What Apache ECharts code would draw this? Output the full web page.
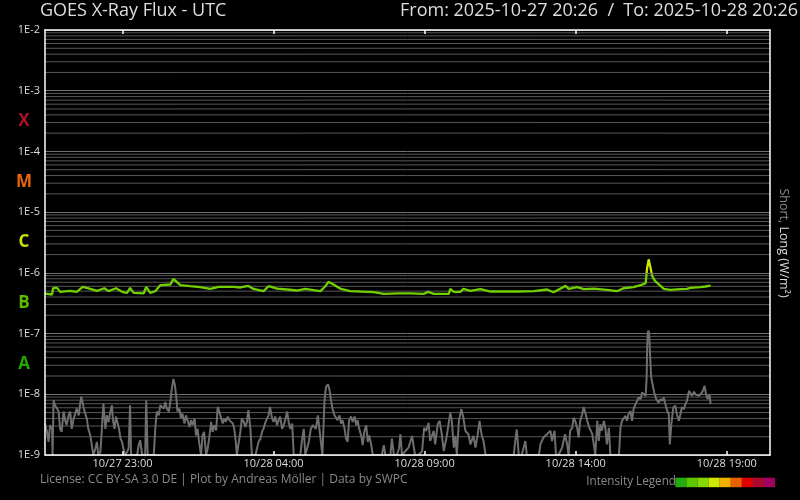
<!DOCTYPE html>
<html><head><meta charset="utf-8">
<script src="https://cdn.jsdelivr.net/npm/echarts@6/dist/echarts.min.js"></script>
<style>html,body{margin:0;background:#000}#c{width:800px;height:500px}</style>
</head><body><div id="c"></div>
<script>
// ---- data ----
const startTime = '2025-10-27T20:26:00Z';
const endTime = '2025-10-28T20:26:00Z';
const tickTimes = ['2025-10-27T23:00:00Z','2025-10-28T04:00:00Z','2025-10-28T09:00:00Z','2025-10-28T14:00:00Z','2025-10-28T19:00:00Z'];

// minutes after start, long channel (0.1-0.8 nm) flux W/m2
const longMinutes = [0,14,16,20,24,30,50,63,75,90,103,118,126,141,155,163,169,176,196,201,209,219,229,249,255,269,288,308,328,345,375,388,404,414,434,444,461,481,500,517,547,557,563,573,586,606,653,673,702,726,752,761,772,802,805,812,825,831,845,865,885,938,971,997,1010,1034,1040,1057,1070,1090,1116,1136,1149,1169,1183,1193,1196,1199,1202,1206,1212,1222,1229,1242,1262,1275,1282,1302,1312,1322];
const longFlux = [4.56e-7,4.40e-7,5.58e-7,5.65e-7,5.65e-7,4.86e-7,5.04e-7,4.86e-7,5.87e-7,5.44e-7,5.04e-7,5.58e-7,4.99e-7,5.58e-7,4.80e-7,4.67e-7,5.65e-7,4.67e-7,4.61e-7,5.87e-7,4.67e-7,4.99e-7,6.26e-7,6.43e-7,7.96e-7,6.26e-7,6.03e-7,5.81e-7,5.44e-7,5.87e-7,5.87e-7,5.74e-7,6.10e-7,5.44e-7,4.99e-7,6.03e-7,5.52e-7,5.32e-7,5.12e-7,5.44e-7,4.99e-7,6.03e-7,7.10e-7,6.43e-7,5.52e-7,4.99e-7,4.80e-7,4.50e-7,4.61e-7,4.61e-7,4.50e-7,4.86e-7,4.50e-7,4.50e-7,5.44e-7,4.86e-7,4.86e-7,5.44e-7,5.04e-7,5.38e-7,4.93e-7,4.93e-7,4.99e-7,5.32e-7,4.80e-7,6.10e-7,5.44e-7,5.81e-7,5.38e-7,5.52e-7,5.24e-7,4.99e-7,5.58e-7,5.81e-7,6.26e-7,6.76e-7,1.21e-6,1.67e-6,1.29e-6,8.83e-7,7.29e-7,6.19e-7,5.44e-7,5.24e-7,5.38e-7,5.44e-7,5.65e-7,5.81e-7,5.96e-7,6.19e-7];

// minutes after start, short channel (0.05-0.4 nm) flux W/m2
const shortMinutes = [0,4,7,10,14,15,17,20,24,27,30,33,37,40,43,47,50,53,57,60,63,67,70,72,75,77,80,83,86,90,93,96,100,103,106,110,113,116,120,123,126,130,133,135,138,141,144,147,150,153,156,159,163,166,169,171,183,186,189,193,199,201,204,216,219,222,226,229,232,236,239,242,246,249,252,255,258,261,263,267,270,273,277,280,283,287,290,293,297,300,303,306,310,313,316,320,323,326,330,333,336,340,343,346,350,353,356,359,363,366,369,373,376,379,381,385,388,391,395,398,401,404,408,411,418,421,424,428,431,434,438,441,444,447,451,454,457,461,464,467,471,474,477,481,484,487,491,494,507,510,514,517,524,528,532,535,538,542,545,548,551,555,558,562,565,568,571,575,578,581,585,588,591,595,598,601,604,608,611,615,618,621,624,628,631,634,638,641,644,648,651,669,673,676,686,689,693,699,703,
706,709,712,722,729,735,742,749,753,757,762,765,772,775,780,784,788,792,798,805,808,812,815,818,822,827,831,835,841,845,851,855,859,863,867,871,875,931,934,937,941,947,954,957,981,984,990,997,1004,1007,1012,1015,1020,1027,1033,1037,1040,1043,1047,1050,1053,1057,1060,1063,1067,1070,1073,1077,1080,1083,1087,1090,1093,1097,1100,1103,1106,1110,1113,1116,1120,1123,1140,1143,1146,1149,1153,1156,1159,1163,1166,1169,1173,1176,1179,1183,1186,1189,1193,1195,1196,1197,1198.5,1200,1202,1204,1208,1210,1214,1219,1222,1226,1229,1232,1236,1239,1241,1244,1248,1252,1255,1259,1262,1265,1269,1272,1275,1279,1282,1285,1289,1292,1295,1299,1302,1305,1308,1310,1313,1316,1320,1322];
const shortFlux = [3.3e-9,2.4e-9,1.64e-9,3.1e-9,2.7e-9,1e-9,8.0e-9,6.6e-9,5.8e-9,5.2e-9,2.7e-9,2.4e-9,5.2e-9,3.75e-9,3.1e-9,4.5e-9,5.2e-9,2.7e-9,4.0e-9,4.8e-9,5.8e-9,4.5e-9,7.1e-9,9.1e-9,7.1e-9,5.8e-9,4.8e-9,4.0e-9,2.7e-9,2.1e-9,1.45e-9,1e-9,1.27e-9,1.64e-9,1e-9,1.12e-9,2.7e-9,7.1e-9,2.7e-9,4.5e-9,3.5e-9,5.2e-9,6.6e-9,3.75e-9,2.7e-9,4.3e-9,4.0e-9,2.7e-9,1.86e-9,1.64e-9,1.27e-9,1e-9,1.12e-9,1.27e-9,6.6e-9,1e-9,1e-9,1.45e-9,1.75e-9,1e-9,1e-9,8.0e-9,1e-9,1e-9,2.7e-9,5.2e-9,4.5e-9,6.6e-9,7.1e-9,5.8e-9,7.5e-9,5.8e-9,5.2e-9,7.5e-9,1.25e-8,1.79e-8,1.42e-8,8.6e-9,5.2e-9,5.8e-9,4.0e-9,4.8e-9,3.3e-9,4.5e-9,3.75e-9,2.9e-9,3.75e-9,3.1e-9,4.0e-9,2.1e-9,2.7e-9,1.64e-9,1e-9,2.1e-9,2.4e-9,1e-9,1.27e-9,1.86e-9,3.5e-9,2.4e-9,3.1e-9,2.55e-9,6.2e-9,5.2e-9,4.0e-9,3.3e-9,4.0e-9,3.5e-9,4.3e-9,3.75e-9,4.0e-9,3.3e-9,2.7e-9,1.64e-9,1e-9,1.64e-9,2.4e-9,4.0e-9,3.5e-9,2.9e-9,3.5e-9,5.5e-9,2.7e-9,1e-9,1e-9,1.27e-9,1.64e-9,1.86e-9,2.4e-9,2.7e-9,3.5e-9,3.3e-9,4.5e-9,6.2e-9,4.0e-9,3.5e-9,4.3e-9,3.1e-9,3.75e-9,4.3e-9,2.7e-9,3.1e-9,3.75e-9,5.2e-9,3.5e-9,2.7e-9,3.3e-9,1e-9,1e-9,1.64e-9,2.7e-9,1e-9,1.64e-9,2.7e-9,3.1e-9,3.3e-9,2.7e-9,4.5e-9,2.7e-9,1.64e-9,1e-9,7.5e-9,1.32e-8,1.46e-8,1.2e-8,8.0e-9,5.8e-9,4.5e-9,4.8e-9,3.75e-9,4.5e-9,3.3e-9,3.75e-9,2.7e-9,1.86e-9,1.64e-9,3.75e-9,4.3e-9,3.5e-9,4.3e-9,3.1e-9,3.75e-9,2.7e-9,2.1e-9,1.45e-9,2.4e-9,3.1e-9,1.64e-9,2.1e-9,1.45e-9,1e-9,1e-9,1.45e-9,1e-9,1e-9,1.86e-9,1e-9,1e-9,1.27e-9,
2.2e-9,1e-9,1e-9,1.32e-9,2.06e-9,1e-9,1e-9,1.16e-9,2.8e-9,2.5e-9,3.4e-9,1.7e-9,2.5e-9,1.5e-9,3.2e-9,3.65e-9,2.2e-9,1.16e-9,2.06e-9,5.0e-9,3.65e-9,1.32e-9,2.06e-9,1e-9,3.65e-9,5.7e-9,4.1e-9,2.5e-9,2.2e-9,1.5e-9,2.06e-9,1.32e-9,2.06e-9,3.65e-9,2.2e-9,1.7e-9,1e-9,1e-9,1.7e-9,2.65e-9,1e-9,1e-9,1.7e-9,1e-9,1e-9,1.5e-9,1.94e-9,2.2e-9,2.5e-9,1.7e-9,2.5e-9,1e-9,1e-9,1.32e-9,2.2e-9,1.5e-9,1e-9,2.5e-9,2.8e-9,4.1e-9,3.65e-9,2.8e-9,1.94e-9,3.65e-9,4.7e-9,6.2e-9,5.0e-9,3.65e-9,3.0e-9,3.2e-9,2.2e-9,1.5e-9,1e-9,3.65e-9,1.7e-9,3.2e-9,2.5e-9,3.65e-9,2.8e-9,1.5e-9,2.8e-9,1e-9,1e-9,2.8e-9,3.65e-9,3.9e-9,4.4e-9,3.65e-9,4.7e-9,5.3e-9,3.65e-9,5.7e-9,6.9e-9,7.8e-9,8.9e-9,8.3e-9,1.07e-8,1.14e-8,9.4e-9,1.9e-8,5.9e-8,9.9e-8,1.12e-7,9.9e-8,4.1e-8,1.9e-8,1.3e-8,1.07e-8,8.3e-9,7.3e-9,8.3e-9,7.8e-9,8.9e-9,6.9e-9,5.3e-9,4.7e-9,1.5e-9,3.2e-9,6.1e-9,6.5e-9,4.7e-9,3.65e-9,4.7e-9,6.1e-9,5.7e-9,6.9e-9,7.8e-9,1.14e-8,1.07e-8,9.4e-9,1.1e-8,1.0e-8,1.07e-8,9.4e-9,8.9e-9,1.07e-8,1.22e-8,1.38e-8,1.0e-8,8.3e-9,1.0e-8,6.9e-9];

const flareClasses = ['X','M','C','B','A'];
const flareFloor = [1e-4,1e-5,1e-6,1e-7,1e-8];

// ---- styles ----
const FONT = 'Open Sans';
const flareColors = ['#b0102c','#e8640e','#c8e000','#5cbc00','#22a800'];
const legendColors = ['#22aa11','#5cc800','#88d800','#cce800','#f0b000','#e86000','#e00000','#aa0a30','#a00060'];

const t0 = Date.parse(startTime), t1 = Date.parse(endTime);
const ticks = tickTimes.map(s => Date.parse(s));
const pairs = (mins, vals) => mins.map((m, i) => [t0 + m * 60000, vals[i]]);
// minor log grid lines (2..9 x 10^n), drawn as broken horizontal segments across the plot
const gridData = [];
for (let e = -9; e < -2; e++) for (let m = 2; m <= 9; m++) {
  const v = m * Math.pow(10, e);
  gridData.push([t0, v], [t1, v], [t1, '-']);
}
const pad = n => String(n).padStart(2, '0');
const fmtTime = v => { const d = new Date(v); return pad(d.getUTCMonth() + 1) + '/' + pad(d.getUTCDate()) + ' ' + pad(d.getUTCHours()) + ':' + pad(d.getUTCMinutes()); };

const chart = echarts.init(document.getElementById('c'));
const xBase = {
  type: 'value', min: t0, max: t1,
  axisLine: { onZero: false, lineStyle: { color: '#ffffff', width: 1.5 } },
  axisTick: { inside: true, length: 4, customValues: ticks, lineStyle: { color: '#ffffff', width: 1.5 } },
  splitLine: { show: false }
};
const yBase = {
  type: 'log', logBase: 10, min: 1e-9, max: 1e-2, splitNumber: 7,
  axisLine: { show: true, onZero: false, lineStyle: { color: '#ffffff', width: 1.5 } },
  axisTick: { show: false },
  minorTick: { show: false }
};
chart.setOption({
  backgroundColor: '#000',
  animation: false,
  grid: { left: 45, right: 30, top: 30, bottom: 45 },
  xAxis: [
    Object.assign({}, xBase, { position: 'bottom', z: 10,
      axisLabel: { customValues: ticks, formatter: fmtTime, color: '#dddddd', fontSize: 11, fontFamily: FONT, margin: 3 } }),
    Object.assign({}, xBase, { position: 'top', z: 10, axisLabel: { show: false } })
  ],
  yAxis: [
    Object.assign({}, yBase, { position: 'left', z: 10,
      axisLabel: { formatter: v => '1E' + Math.round(Math.log10(v)), color: '#dddddd', fontSize: 11, fontFamily: FONT, margin: 5 },
      splitLine: { show: true, lineStyle: { color: '#707070', width: 1 } } }),
    Object.assign({}, yBase, { position: 'right', z: 10, axisLabel: { show: false }, splitLine: { show: false } })
  ],
  visualMap: {
    show: false, type: 'piecewise', seriesIndex: 2, dimension: 1,
    pieces: [
      { lt: 1e-6, color: '#72cf00' },
      { gte: 1e-6, lt: 1e-5, color: '#cde600' }
    ]
  },
  series: [
    { name: 'grid', type: 'line', data: gridData, z: 1, silent: true, showSymbol: false, connectNulls: false,
      lineStyle: { color: '#585858', width: 1 }, itemStyle: { color: '#585858' } },
    { name: 'Short', type: 'line', data: pairs(shortMinutes, shortFlux), showSymbol: false, z: 3,
      lineStyle: { color: '#6e6e6e', width: 2 }, itemStyle: { color: '#6e6e6e' }, clip: true },
    { name: 'Long', type: 'line', data: pairs(longMinutes, longFlux), showSymbol: false, z: 4,
      lineStyle: { width: 2.3 }, clip: true }
  ]
});

const graphics = [
  { type: 'text', left: 40, top: 2, style: { text: 'GOES X-Ray Flux - UTC', fill: '#dddddd', font: '18px "Open Sans"' } },
  { type: 'text', right: 2, top: 2, style: { text: 'From: 2025-10-27 20:26  /  To: 2025-10-28 20:26', fill: '#dddddd', font: '18px "Open Sans"' } },
  { type: 'text', left: 40, top: 474, style: { text: 'License: CC BY-SA 3.0 DE | Plot by Andreas Möller | Data by SWPC', fill: '#8a8a8a', font: '12px "Open Sans"' } },
  { type: 'text', x: 676, y: 482, style: { text: 'Intensity Legend', fill: '#8a8a8a', font: '11.7px "Open Sans"', align: 'right', verticalAlign: 'middle' } },
  { type: 'text', x: 784, y: 243, rotation: -Math.PI / 2,
    style: { text: '{a|Short,} {b|Long (W/m²)}', align: 'center', verticalAlign: 'middle', font: '12.5px "Open Sans"',
      rich: { a: { fill: '#8a8a8a', font: '12.5px "Open Sans"' }, b: { fill: '#dddddd', font: '12.5px "Open Sans"' } } } }
];
legendColors.forEach((c, i) => graphics.push({ type: 'rect', shape: { x: 675.3 + i * 11.08, y: 477.7, width: 11.2, height: 9.5 }, style: { fill: c } }));
flareClasses.forEach((name, i) => {
  const y = chart.convertToPixel({ yAxisIndex: 0 }, flareFloor[i] * Math.sqrt(10));
  graphics.push({ type: 'text', x: 24, y: y, style: { text: name, fill: flareColors[i], font: 'bold 17px "Open Sans"', align: 'center', verticalAlign: 'middle' } });
});
chart.setOption({ graphic: graphics });
</script>
</body></html>
